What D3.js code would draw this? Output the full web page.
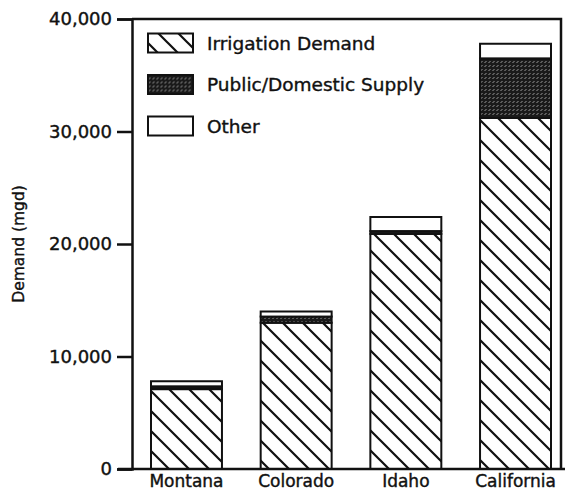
<!DOCTYPE html>
<html lang="en">
<head>
    <meta charset="UTF-8">
    <title>Water Demand by State</title>
    <style>
        body {
            margin: 0;
            padding: 0;
            background: #fff;
        }
        text {
            font-family: "DejaVu Sans", sans-serif;
            fill: #111;
            stroke: #111;
            stroke-width: 0.4px;
        }
        .axis path, .axis line {
            stroke: #111;
        }
    </style>
</head>
<body>
    <script src="https://d3js.org/d3.v7.min.js"></script>
    <script>
        const width = 567;
        const height = 495;

        // data (mgd)
        const states = ['Montana', 'Colorado', 'Idaho', 'California'];
        const irrigation = [7100, 13000, 20900, 31200];
        const publicSupply = [250, 550, 250, 5300];
        const other = [450, 450, 1250, 1300];
        const seriesNames = ['Irrigation Demand', 'Public/Domestic Supply', 'Other'];
        const yTicks = [0, 10000, 20000, 30000, 40000];

        const svg = d3.select('body').append('svg')
            .attr('width', width)
            .attr('height', height);

        const defs = svg.append('defs');

        // diagonal hatch for irrigation
        const hatch = defs.append('pattern')
            .attr('id', 'hatch')
            .attr('patternUnits', 'userSpaceOnUse')
            .attr('width', 20)
            .attr('height', 20);
        hatch.append('rect').attr('width', 20).attr('height', 20).attr('fill', '#fff');
        hatch.append('path')
            .attr('d', 'M0,0L20,20M-5,15L5,25M15,-5L25,5')
            .attr('stroke', '#111')
            .attr('stroke-width', 2.2);

        // dense dark texture for public supply
        const dots = defs.append('pattern')
            .attr('id', 'dots')
            .attr('patternUnits', 'userSpaceOnUse')
            .attr('width', 4)
            .attr('height', 4);
        dots.append('rect').attr('width', 4).attr('height', 4).attr('fill', '#1a1a1a');
        dots.append('path')
            .attr('d', 'M0.5,3L2.5,1')
            .attr('stroke', '#bbb')
            .attr('stroke-width', 0.8);

        const fills = ['url(#hatch)', 'url(#dots)', '#fff'];

        const left = 132, right = 561;

        const y = d3.scaleLinear()
            .domain([0, 40000])
            .range([469, 19]);

        const x = d3.scaleBand()
            .domain(states)
            .range([151, 551])
            .paddingInner(0.353)
            .paddingOuter(0);

        // stack the three series
        const rows = states.map((s, i) => ({
            state: s,
            'Irrigation Demand': irrigation[i],
            'Public/Domestic Supply': publicSupply[i],
            'Other': other[i]
        }));
        const stacked = d3.stack().keys(seriesNames)(rows);

        // bars
        const layers = svg.append('g')
            .selectAll('g')
            .data(stacked)
            .enter().append('g')
            .attr('fill', (d, i) => fills[i]);

        layers.selectAll('rect')
            .data(d => d)
            .enter().append('rect')
            .attr('x', d => x(d.data.state))
            .attr('width', x.bandwidth())
            .attr('y', d => y(d[1]))
            .attr('height', d => y(d[0]) - y(d[1]))
            .attr('stroke', '#111')
            .attr('stroke-width', 2);

        // frame: top and right edges
        svg.append('path')
            .attr('d', `M${left},${y(40000)}H${right}V${y(0)}`)
            .attr('fill', 'none')
            .attr('stroke', '#111')
            .attr('stroke-width', 2.5);

        // y axis
        const yAxis = svg.append('g')
            .attr('class', 'axis')
            .attr('transform', `translate(${left},0)`)
            .call(d3.axisLeft(y)
                .tickValues(yTicks)
                .tickSize(15)
                .tickPadding(5)
                .tickFormat(d3.format(',')));
        yAxis.select('.domain').attr('stroke-width', 2.5);
        yAxis.selectAll('line').attr('stroke-width', 2.5);
        yAxis.selectAll('text')
            .style('font-size', '18px');

        // x axis baseline and labels
        svg.append('line')
            .attr('x1', 118)
            .attr('x2', 565)
            .attr('y1', y(0))
            .attr('y2', y(0))
            .attr('stroke', '#111')
            .attr('stroke-width', 2.5);

        const xAxis = svg.append('g')
            .attr('class', 'axis')
            .attr('transform', `translate(0,${y(0)})`)
            .call(d3.axisBottom(x).tickSize(0).tickPadding(6));
        xAxis.select('.domain').remove();
        xAxis.selectAll('text')
            .style('font-size', '17px');

        // y axis title
        svg.append('text')
            .attr('transform', 'translate(24,244) rotate(-90)')
            .attr('text-anchor', 'middle')
            .style('font-size', '15.5px')
            .text('Demand (mgd)');

        // legend
        const legend = svg.append('g')
            .selectAll('g')
            .data(seriesNames)
            .enter().append('g')
            .attr('transform', (d, i) => `translate(148,${43 + i * 41.5})`);

        legend.append('rect')
            .attr('x', 0)
            .attr('y', -9.5)
            .attr('width', 45)
            .attr('height', 19)
            .attr('fill', (d, i) => fills[i])
            .attr('stroke', '#111')
            .attr('stroke-width', 2);

        legend.append('text')
            .attr('x', 59)
            .attr('dy', '0.36em')
            .style('font-size', '18.5px')
            .text(d => d);
    </script>
</body>
</html>
